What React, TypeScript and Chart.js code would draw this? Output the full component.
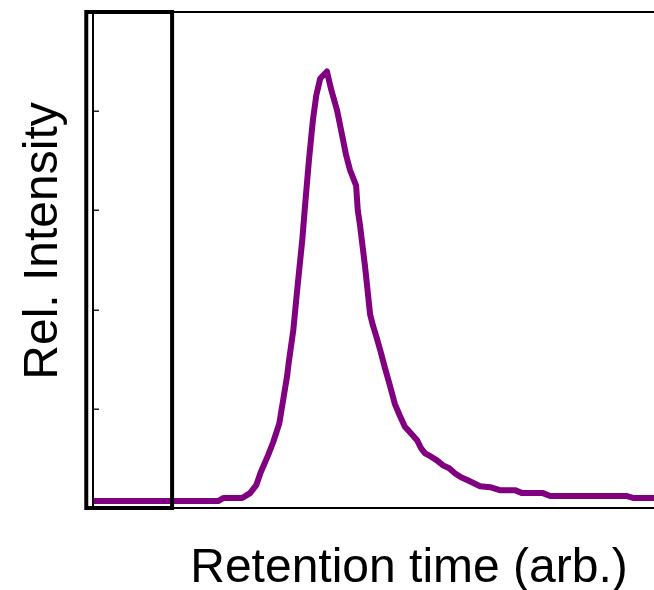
import React, { useEffect, useRef } from "react";
import { Chart, registerables } from "chart.js";

Chart.register(...registerables);

// Chromatogram trace: retention time (arb. units, 0–100) vs relative intensity
const retentionTime = [
  0, 22.3, 23.2, 26.6, 28.0, 29.1, 29.9, 31.2, 32.1, 33.2, 33.9, 34.6, 34.9,
  35.7, 36.4, 37.3, 37.8, 38.5, 39.2, 39.8, 40.5, 41.7, 42.4, 43.5, 44.4, 45.1,
  45.8, 46.9, 47.2, 47.6, 48.5, 49.4, 49.9, 50.6, 51.3, 52.0, 52.9, 53.8, 54.7,
  55.6, 56.7, 57.8, 58.5, 59.2, 60.2, 61.3, 62.4, 63.5, 64.5, 65.6, 66.8, 67.9,
  69.0, 70.8, 72.5, 75.2, 76.5, 80.2, 81.5, 95.2, 96.4, 100,
];
const relIntensity = [
  0.07, 0.07, 0.1, 0.1, 0.15, 0.23, 0.36, 0.53, 0.66, 0.85, 1.09, 1.33, 1.47,
  1.79, 2.2, 2.7, 3.05, 3.51, 3.91, 4.16, 4.33, 4.4, 4.23, 4.01, 3.76, 3.56,
  3.41, 3.25, 3.0, 2.85, 2.43, 1.95, 1.84, 1.71, 1.57, 1.42, 1.24, 1.05, 0.93,
  0.82, 0.75, 0.68, 0.6, 0.55, 0.52, 0.48, 0.43, 0.4, 0.35, 0.31, 0.28, 0.25,
  0.22, 0.21, 0.18, 0.18, 0.15, 0.15, 0.12, 0.12, 0.1, 0.1,
];
const yTickValues = [1, 2, 3, 4];
const xRange = [0, 100];
const yRange = [0, 5];
// Boxed window at the start of the run
const boxWindow = [-1.2, 14.1];

const xTitle = "Retention time (arb.)";
const yTitle = "Rel. Intensity";

const FONT = "48px 'Liberation Sans', Arial, Helvetica, sans-serif";

const framePlugin = {
  id: "frame",
  afterDatasetsDraw(chart: any) {
    const { ctx, chartArea } = chart;
    const xs = chart.scales.x;
    const ys = chart.scales.y;
    const { left, right, top, bottom } = chartArea;
    ctx.save();

    // axis lines: left, top, bottom
    ctx.strokeStyle = "#000";
    ctx.lineWidth = 2;
    ctx.beginPath();
    ctx.moveTo(left, top);
    ctx.lineTo(left, bottom);
    ctx.moveTo(left, top);
    ctx.lineTo(right, top);
    ctx.moveTo(left, bottom);
    ctx.lineTo(right, bottom);
    ctx.stroke();

    // inward ticks on the y axis
    ctx.lineWidth = 1.5;
    ctx.strokeStyle = "#222";
    ctx.beginPath();
    for (const v of yTickValues) {
      const py = Math.round(ys.getPixelForValue(v)) + 0.25;
      ctx.moveTo(left + 1, py);
      ctx.lineTo(left + 6, py);
    }
    ctx.stroke();

    // boxed window
    const bx0 = xs.getPixelForValue(boxWindow[0]);
    const bx1 = xs.getPixelForValue(boxWindow[1]);
    const by0 = ys.getPixelForValue(yRange[1]);
    const by1 = ys.getPixelForValue(yRange[0]);
    ctx.lineWidth = 4;
    ctx.strokeStyle = "#000";
    ctx.strokeRect(bx0, by0, bx1 - bx0, by1 - by0);

    // axis titles
    ctx.fillStyle = "#000";
    ctx.font = FONT;
    ctx.textAlign = "center";
    ctx.textBaseline = "alphabetic";
    ctx.fillText(xTitle, 409, 582);

    ctx.translate(57, 241);
    ctx.rotate(-Math.PI / 2);
    ctx.fillText(yTitle, 0, 0);

    ctx.restore();
  },
};

export default function App() {
  const canvasRef = useRef<HTMLCanvasElement | null>(null);

  useEffect(() => {
    const canvas = canvasRef.current;
    if (!canvas) return;
    const chart = new Chart(canvas, {
      type: "line",
      data: {
        datasets: [
          {
            data: retentionTime.map((x, i) => ({ x, y: relIntensity[i] })),
            borderColor: "#800080",
            borderWidth: 6,
            borderJoinStyle: "round",
            borderCapStyle: "butt",
            pointRadius: 0,
            tension: 0,
            fill: false,
          },
        ],
      },
      options: {
        responsive: false,
        animation: false,
        devicePixelRatio: 1,
        layout: { padding: { left: 93, top: 12, right: 0, bottom: 82 } },
        plugins: {
          legend: { display: false },
          tooltip: { enabled: false },
        },
        scales: {
          x: { type: "linear", min: xRange[0], max: xRange[1], display: false },
          y: { type: "linear", min: yRange[0], max: yRange[1], display: false },
        },
      },
      plugins: [framePlugin],
    });
    return () => chart.destroy();
  }, []);

  return (
    <div
      style={{
        position: "absolute",
        left: 0,
        top: 0,
        width: 654,
        height: 590,
        background: "#fff",
      }}
    >
      <canvas ref={canvasRef} width={654} height={590} />
    </div>
  );
}
